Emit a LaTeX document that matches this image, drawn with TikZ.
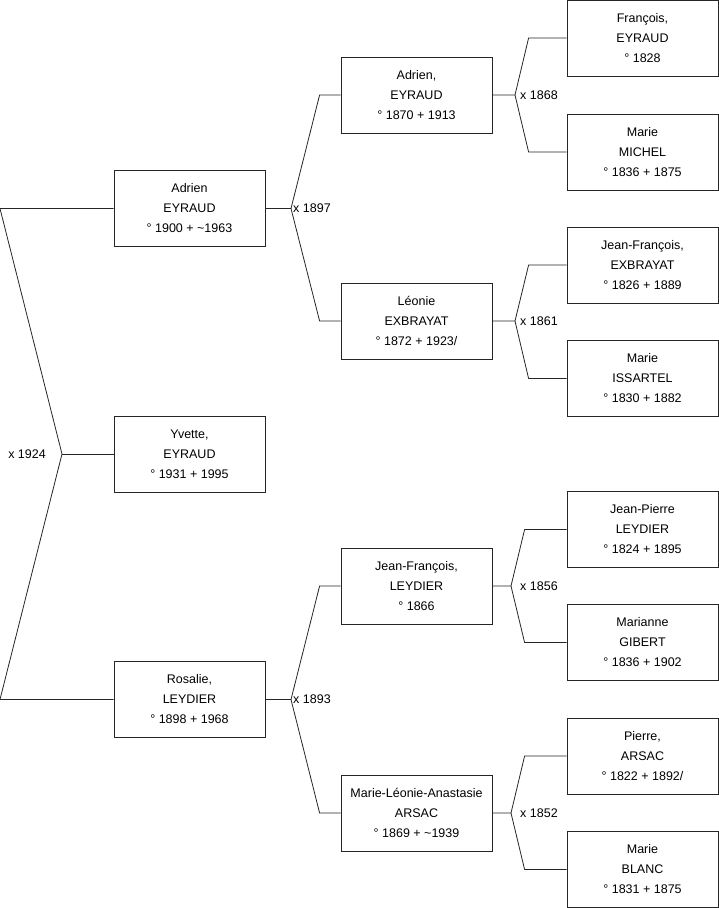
\documentclass[tikz,border=0pt]{standalone}
\usepackage{fontspec}
\setmainfont{Liberation Sans}
\begin{document}
\begin{tikzpicture}[x=1pt,y=-1pt,
  person/.style={draw=black!85, line width=0.8pt, minimum width=151pt, minimum height=76pt, align=center, inner sep=0pt, font=\fontsize{12.5}{20}\selectfont},
  link/.style={draw=black!85, line width=0.8pt},
  lbl/.style={inner sep=0pt, font=\fontsize{12.5}{14}\selectfont}]
\useasboundingbox (0,0) rectangle (719,908);
% generation 1
\node[person] (a1) at (189.5,208.5) {Adrien\\EYRAUD\\° 1900 + \textasciitilde1963};
\node[person] (a2) at (189.5,454) {Yvette,\\EYRAUD\\° 1931 + 1995};
\node[person] (a3) at (189.5,699.5) {Rosalie,\\LEYDIER\\° 1898 + 1968};
% generation 2
\node[person] (b1) at (416.5,95) {Adrien,\\EYRAUD\\° 1870 + 1913};
\node[person] (b2) at (416.5,321) {Léonie\\EXBRAYAT\\° 1872 + 1923/};
\node[person] (b3) at (416.5,586) {Jean-François,\\LEYDIER\\° 1866};
\node[person] (b4) at (416.5,813) {Marie-Léonie-Anastasie\\ARSAC\\° 1869 + \textasciitilde1939};
% generation 3
\node[person] (c1) at (642.5,38) {François,\\EYRAUD\\° 1828};
\node[person] (c2) at (642.5,152) {Marie\\MICHEL\\° 1836 + 1875};
\node[person] (c3) at (642.5,265) {Jean-François,\\EXBRAYAT\\° 1826 + 1889};
\node[person] (c4) at (642.5,378.5) {Marie\\ISSARTEL\\° 1830 + 1882};
\node[person] (c5) at (642.5,529.5) {Jean-Pierre\\LEYDIER\\° 1824 + 1895};
\node[person] (c6) at (642.5,642.5) {Marianne\\GIBERT\\° 1836 + 1902};
\node[person] (c7) at (642.5,756) {Pierre,\\ARSAC\\° 1822 + 1892/};
\node[person] (c8) at (642.5,869.5) {Marie\\BLANC\\° 1831 + 1875};
% root union
\coordinate (v0) at (62,454);
\coordinate (t0) at (0,208.5);
\coordinate (u0) at (0,699.5);
\draw[link] (a1.west) -- (t0) -- (v0) -- (u0) -- (a3.west);
\draw[link] (v0) -- (a2.west);
\node[lbl, anchor=east] (m0) at (46,454) {x 1924};
% generation 1 -> 2
\coordinate (v1) at (291,208.5);
\draw[link] (a1.east) -- (v1) -- ([xshift=-21pt]b1.west) -- (b1.west);
\draw[link] (v1) -- ([xshift=-21pt]b2.west) -- (b2.west);
\node[lbl, anchor=west] (m1) at (293,208.5) {x 1897};
\coordinate (v2) at (291,699.5);
\draw[link] (a3.east) -- (v2) -- ([xshift=-21pt]b3.west) -- (b3.west);
\draw[link] (v2) -- ([xshift=-21pt]b4.west) -- (b4.west);
\node[lbl, anchor=west] (m2) at (293,699.5) {x 1893};
% generation 2 -> 3
\coordinate (v3) at (515,95);
\draw[link] (b1.east) -- (v3) -- ([xshift=-38pt]c1.west) -- (c1.west);
\draw[link] (v3) -- ([xshift=-38pt]c2.west) -- (c2.west);
\node[lbl, anchor=west] (m3) at (520,95) {x 1868};
\coordinate (v4) at (515,321);
\draw[link] (b2.east) -- (v4) -- ([xshift=-38pt]c3.west) -- (c3.west);
\draw[link] (v4) -- ([xshift=-38pt]c4.west) -- (c4.west);
\node[lbl, anchor=west] (m4) at (520,321) {x 1861};
\coordinate (v5) at (511,586);
\draw[link] (b3.east) -- (v5) -- ([xshift=-42pt]c5.west) -- (c5.west);
\draw[link] (v5) -- ([xshift=-42pt]c6.west) -- (c6.west);
\node[lbl, anchor=west] (m5) at (520,586) {x 1856};
\coordinate (v6) at (511,813);
\draw[link] (b4.east) -- (v6) -- ([xshift=-42pt]c7.west) -- (c7.west);
\draw[link] (v6) -- ([xshift=-42pt]c8.west) -- (c8.west);
\node[lbl, anchor=west] (m6) at (520,813) {x 1852};
\end{tikzpicture}
\end{document}
